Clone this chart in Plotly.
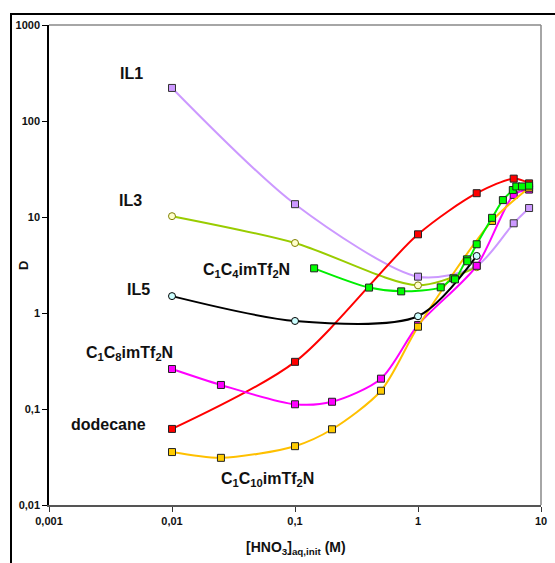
import plotly.graph_objects as go

# ---- data ----
il1_x = [0.01, 0.1, 1, 3, 6, 8]
il1_y = [221, 13.6, 2.39, 3.1, 8.6, 12.4]

il3_x = [0.01, 0.1, 1, 3]
il3_y = [10.2, 5.36, 1.94, 3.0]

il5_x = [0.01, 0.1, 1, 3]
il5_y = [1.50, 0.826, 0.925, 3.93]

dod_x = [0.01, 0.1, 1, 3, 6, 8]
dod_y = [0.062, 0.31, 6.6, 17.7, 25.1, 22.4]

c4_x = [0.143, 0.40, 0.73, 1.53, 1.94, 2.0, 2.5, 2.52, 3.0, 4.0, 4.9, 5.9, 6.3, 7.0, 8.0]
c4_y = [2.92, 1.84, 1.68, 1.85, 2.3, 2.24, 3.62, 3.46, 5.2, 9.8, 15.0, 19.1, 20.8, 20.8, 21.2]

c8_x = [0.01, 0.025, 0.1, 0.2, 0.5, 1, 3, 6, 8]
c8_y = [0.261, 0.178, 0.112, 0.119, 0.207, 0.75, 3.1, 17.0, 19.3]

c10_x = [0.01, 0.025, 0.1, 0.2, 0.5, 1, 4, 8]
c10_y = [0.0356, 0.031, 0.041, 0.0615, 0.155, 0.72, 9.1, 20.2]

x_tickvals = [0.001, 0.01, 0.1, 1, 10]
x_ticktext = ["0,001", "0,01", "0,1", "1", "10"]
y_tickvals = [0.01, 0.1, 1, 10, 100, 1000]
y_ticktext = ["0,01", "0,1", "1", "10", "100", "1000"]

FONT = "Liberation Sans, Arial, sans-serif"

series = [
    # x, y, line color, marker symbol, marker fill, marker edge
    (il1_x, il1_y, "#CC99FF", "square", "#CC99FF", "#333333"),
    (il3_x, il3_y, "#99CC00", "circle", "#FFFFCC", "#808000"),
    (dod_x, dod_y, "#FF0000", "square", "#FF0000", "#222222"),
    (c8_x, c8_y, "#FF00FF", "square", "#FF00FF", "#222222"),
    (c10_x, c10_y, "#FFC000", "square", "#FFCC00", "#222222"),
    (il5_x, il5_y, "#000000", "circle", "#CCFFFF", "#000000"),
    (c4_x, c4_y, "#00EE00", "square", "#00FF00", "#222222"),
]

fig = go.Figure()
for x, y, lc, sym, fc, ec in series:
    fig.add_trace(go.Scatter(
        x=x, y=y, mode="lines+markers",
        line=dict(color=lc, width=2, shape="spline", smoothing=0.8),
        marker=dict(symbol=sym, size=7, color=fc, line=dict(color=ec, width=1)),
        showlegend=False, hoverinfo="skip",
    ))

L, R, T, B = 49, 541, 25, 505


def px2paper(px, py):
    return (px - L) / (R - L), (B - py) / (B - T)


labels = [
    ("<b>IL1</b>", 131, 74, 16),
    ("<b>IL3</b>", 130, 200, 16),
    ("<b>IL5</b>", 138, 290, 16),
    ("<b>C<sub>1</sub>C<sub>8</sub>imTf<sub>2</sub>N</b>", 129, 353, 16),
    ("<b>dodecane</b>", 108, 424, 16),
    ("<b>C<sub>1</sub>C<sub>4</sub>imTf<sub>2</sub>N</b>", 246, 270, 16),
    ("<b>C<sub>1</sub>C<sub>10</sub>imTf<sub>2</sub>N</b>", 267, 479, 16),
    ("<b>[HNO<sub>3</sub>]<sub>aq,init</sub> (M)</b>", 296, 548, 14),
]
for txt, px, py, sz in labels:
    xp, yp = px2paper(px, py)
    fig.add_annotation(
        text=txt, xref="paper", yref="paper", x=xp, y=yp,
        showarrow=False, font=dict(family=FONT, size=sz, color="#111111"),
        xanchor="center", yanchor="middle",
    )
# y axis title
xp, yp = px2paper(23, 266)
fig.add_annotation(text="<b>D</b>", xref="paper", yref="paper", x=xp, y=yp,
                   showarrow=False, textangle=-90,
                   font=dict(family=FONT, size=13, color="#111111"),
                   xanchor="center", yanchor="middle")

# outer chart frame (extends past the visible page)
x0, y1 = px2paper(11, 14)
x1, y0 = px2paper(600, 620)
fig.add_shape(type="rect", xref="paper", yref="paper",
              x0=x0, x1=x1, y0=y0, y1=y1,
              line=dict(color="black", width=2), layer="below")
# gray plot-area border top/right
fig.add_shape(type="line", xref="paper", yref="paper", x0=0, x1=1, y0=1, y1=1,
              line=dict(color="#888888", width=1.5))
fig.add_shape(type="line", xref="paper", yref="paper", x0=1, x1=1, y0=0, y1=1,
              line=dict(color="#888888", width=1.5))

fig.update_layout(
    width=555, height=563,
    margin=dict(l=L, r=555 - R, t=T, b=563 - B, autoexpand=False),
    paper_bgcolor="white", plot_bgcolor="white",
    font=dict(family=FONT, color="#111111"),
)
fig.update_xaxes(
    type="log", range=[-3, 1], automargin=False,
    tickvals=x_tickvals, ticktext=["<b>%s</b>" % t for t in x_ticktext],
    tickfont=dict(family=FONT, size=11, color="#111111"),
    ticks="outside", ticklen=5, tickcolor="#333333",
    showline=True, linecolor="#555555", linewidth=2,
    showgrid=False, zeroline=False,
)
fig.update_yaxes(
    type="log", range=[-2, 3], automargin=False,
    tickvals=y_tickvals, ticktext=["<b>%s</b>" % t for t in y_ticktext],
    tickfont=dict(family=FONT, size=11, color="#111111"),
    ticks="outside", ticklen=5, tickcolor="black",
    showline=True, linecolor="black", linewidth=1.5,
    showgrid=False, zeroline=False,
)

fig.write_html("out.html", config={"displayModeBar": False},
               post_script="document.body.style.margin='0';document.body.style.overflow='hidden';")
